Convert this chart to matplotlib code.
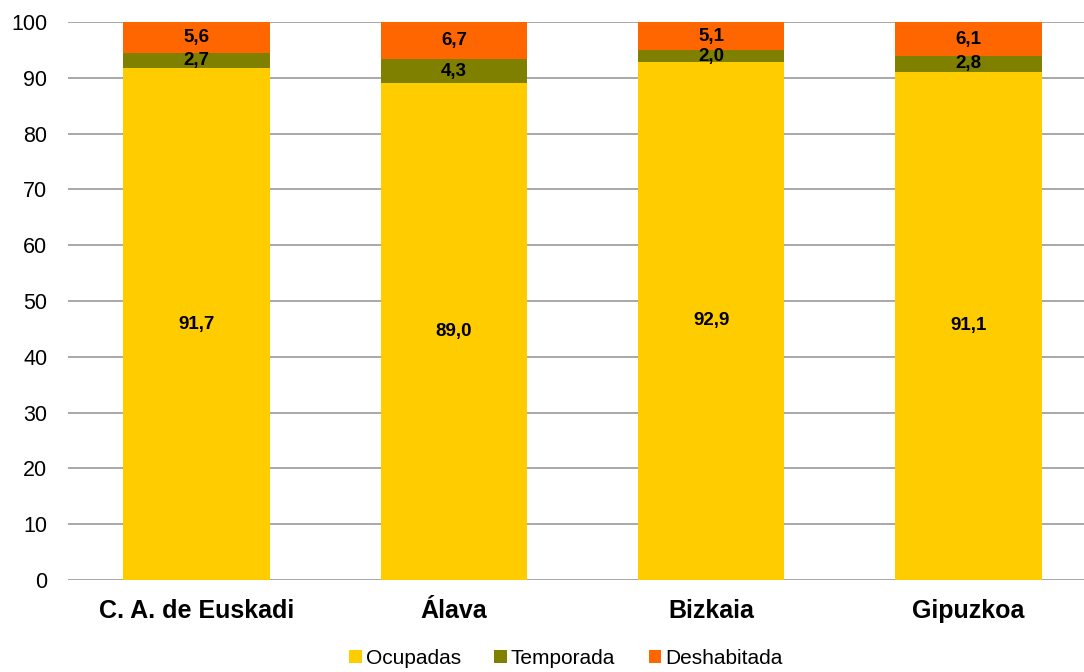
import numpy as np
import matplotlib.pyplot as plt
from matplotlib.patches import Patch

plt.rcParams['font.family'] = ['Liberation Sans', 'DejaVu Sans']

categories = ['C. A. de Euskadi', 'Álava', 'Bizkaia', 'Gipuzkoa']
ocupadas = [91.7, 89.0, 92.9, 91.1]
temporada = [2.7, 4.3, 2.0, 2.8]
deshabitada = [5.6, 6.7, 5.1, 6.1]

series = [('Ocupadas', ocupadas, '#FFCC00'),
          ('Temporada', temporada, '#808000'),
          ('Deshabitada', deshabitada, '#FF6600')]

fig = plt.figure(figsize=(10.84, 6.72), dpi=100)
ax = fig.add_axes([68 / 1084, 1 - 580 / 672, 1029 / 1084, 558 / 672])

x = np.arange(len(categories))
bottom = np.zeros(len(categories))
for name, vals, color in series:
    vals = np.array(vals)
    ax.bar(x, vals, 0.57, bottom=bottom, color=color, zorder=2, label=name)
    for xi, b, v in zip(x, bottom, vals):
        ax.text(xi, b + v / 2, f'{v:.1f}'.replace('.', ','), ha='center', va='center',
                fontsize=13.5, fontweight='bold', zorder=3)
    bottom += vals

ax.set_ylim(0, 100)
ax.set_xlim(-0.5, 3.5)
ax.set_yticks(range(0, 101, 10))
ax.yaxis.grid(True, color='#999999', linewidth=1.2, zorder=0)
ax.set_axisbelow(True)
for s in ax.spines.values():
    s.set_visible(False)
ax.tick_params(axis='y', length=0, pad=15, labelsize=15.5)
ax.tick_params(axis='x', length=0, pad=14, labelsize=18)
ax.set_xticks(x)
ax.set_xticklabels(categories, fontweight='bold')

handles = [Patch(facecolor=c, label=n) for n, _, c in series]
fig.legend(handles=handles, loc='lower center', bbox_to_anchor=(0.522, -0.022), ncol=3,
           frameon=False, fontsize=15, handlelength=0.6, handleheight=0.6,
           handletextpad=0.2, columnspacing=1.6)

fig.savefig('out.png', dpi=100)
